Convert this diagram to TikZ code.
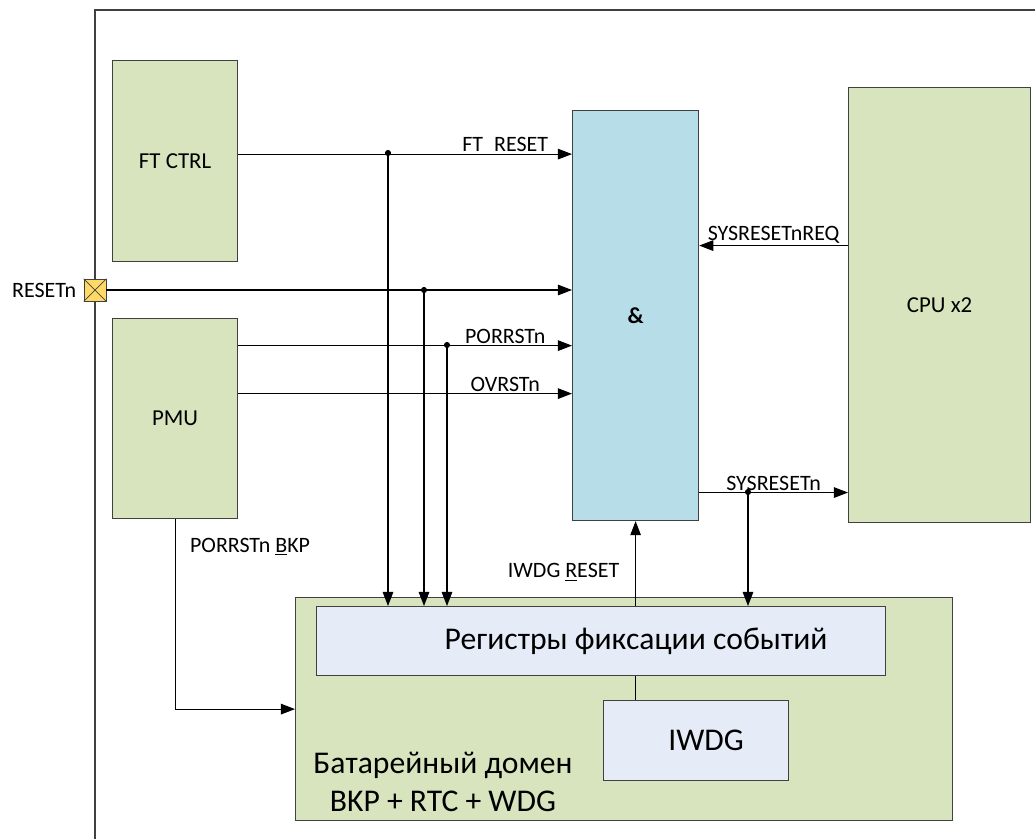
\documentclass[tikz,border=0pt]{standalone}
\usepackage{fontspec}
\setmainfont{Carlito}
\usetikzlibrary{arrows.meta, positioning, calc}

\definecolor{blkgreen}{HTML}{D7E4BD}
\definecolor{blkblue}{HTML}{B7DEE8}
\definecolor{regblue}{HTML}{E6ECF7}
\definecolor{padyellow}{HTML}{FFD966}
\definecolor{edge}{HTML}{404040}

\tikzset{
  blk/.style={draw=edge, line width=0.7pt, rectangle, fill=#1, anchor=north west, inner sep=0pt},
  sig/.style={-{Triangle[length=8pt,width=6pt]}, line width=0.6pt},
  lbl/.style={font=\fontsize{12.5}{14}\selectfont, inner sep=1pt},
  jn/.style={circle, fill=black, inner sep=0pt, minimum size=3.5pt},
}

\begin{document}
\begin{tikzpicture}[x=0.02cm, y=-0.02cm, align=center]
    \useasboundingbox (0,0) rectangle (1035,839);
    % outer frame
    \draw[edge, line width=0.7pt] (95,839) -- (95,10) -- (1035,10);

    % blocks
    \node [blk=blkgreen, minimum width=2.5cm, minimum height=4.02cm, font=\fontsize{13}{15}\selectfont] (ftctrl) at (112,60) {FT CTRL};
    \node [blk=blkgreen, minimum width=2.5cm, minimum height=4.0cm, font=\fontsize{13}{15}\selectfont] (pmu) at (112,318) {PMU};
    \node [blk=blkblue, minimum width=2.52cm, minimum height=8.2cm, font=\bfseries\fontsize{13}{15}\selectfont] (andgate) at (572,110) {\&};
    \node [blk=blkgreen, minimum width=3.64cm, minimum height=8.7cm, font=\fontsize{13}{15}\selectfont] (cpu) at (848,87) {CPU x2};
    \node [blk=blkgreen, minimum width=13.14cm, minimum height=4.46cm] (bat) at (295,597) {};
    \node [blk=regblue, minimum width=11.38cm, minimum height=1.38cm, font=\fontsize{18}{20}\selectfont] (regs) at (316,606) {\hspace*{1.4cm}Регистры фиксации событий};
    \node [blk=regblue, minimum width=3.7cm, minimum height=1.6cm, font=\fontsize{18}{20}\selectfont] (iwdg) at (603,700) {\hspace*{0.4cm}IWDG};
    \node [font=\fontsize{18}{22}\selectfont] (batname) at (443,782) {Батарейный домен\\BKP + RTC + WDG};

    % reset pad
    \node [draw=edge, fill=padyellow, minimum size=0.44cm, inner sep=0pt] (pad) at (95,290) {};
    \draw[edge] (pad.north west) -- (pad.south east) (pad.north east) -- (pad.south west);
    \node [lbl, left=3pt of pad] (padname) {RESETn};

    % inputs of the & block
    \draw[sig] ([yshift=0.14cm]ftctrl.east) -- ([yshift=0.14cm]ftctrl.east -| andgate.west)
      node[lbl, pos=0.8, above] {FT\,\,\,RESET};
    \draw[sig] (pad.east) -- (pad.east -| andgate.west);
    \draw[sig] ([yshift=1.46cm]pmu.east) -- ([yshift=1.46cm]pmu.east -| andgate.west)
      node[lbl, pos=0.8, above] {PORRSTn};
    \draw[sig] ([yshift=0.5cm]pmu.east) -- ([yshift=0.5cm]pmu.east -| andgate.west)
      node[lbl, pos=0.8, above] {OVRSTn};
    \draw[sig] ([yshift=1.19cm]cpu.west) -- ([yshift=1.19cm]cpu.west -| andgate.east)
      node[lbl, pos=0.5, above] {SYSRESETnREQ};
    \draw[sig] ([yshift=-3.54cm]andgate.east) -- ([yshift=-3.54cm]andgate.east -| cpu.west)
      node[lbl, pos=0.5, above] {SYSRESETn};

    % taps to the event registers
    \node [jn] (j1) at (388,153) {};
    \node [jn] (j2) at (424,290) {};
    \node [jn] (j3) at (447,345) {};
    \node [jn] (j4) at (748,492) {};
    \draw[sig] (j1) -- (j1 |- regs.north);
    \draw[sig] (j2) -- (j2 |- regs.north);
    \draw[sig] (j3) -- (j3 |- regs.north);
    \draw[sig] (j4) -- (j4 |- regs.north);

    % battery domain
    \draw[sig] (andgate.south |- regs.north) -- (andgate.south)
      node[lbl, pos=0.4, anchor=east, xshift=-8pt] {IWDG \underline{R}ESET};
    \draw[line width=0.6pt] (regs.south -| andgate.south) -- (iwdg.north -| andgate.south);
    \draw[sig] (pmu.south) |- (bat.west);
    \node [lbl, anchor=west] (bkpname) at (188,547) {PORRSTn \underline{B}KP};
\end{tikzpicture}
\end{document}
